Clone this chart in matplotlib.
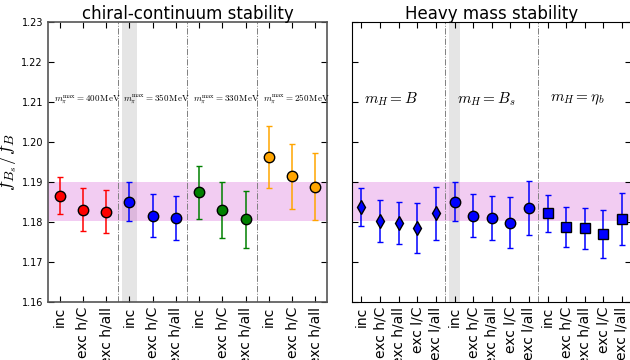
import numpy as np
import matplotlib
matplotlib.use("Agg")
import matplotlib.pyplot as plt

plt.rcParams['mathtext.fontset'] = 'cm'

# left panel: chiral-continuum stability
left_labels = ["inc", "exc h/C", "exc h/all"] * 4
left_vals = [1.1866, 1.1831, 1.1826,
             1.1851, 1.1816, 1.1810,
             1.1874, 1.1831, 1.1807,
             1.1962, 1.1914, 1.1888]
left_errs = [0.0047, 0.0053, 0.0054,
             0.0048, 0.0053, 0.0054,
             0.0066, 0.0070, 0.0071,
             0.0078, 0.0082, 0.0084]
left_colors = ["red", "blue", "green", "orange"]
left_texts = [r"$m_\pi^{\rm max}=400\,\mathrm{MeV}$", r"$m_\pi^{\rm max}=350\,\mathrm{MeV}$",
              r"$m_\pi^{\rm max}=330\,\mathrm{MeV}$", r"$m_\pi^{\rm max}=250\,\mathrm{MeV}$"]

# right panel: heavy mass stability
right_labels = ["inc", "exc h/C", "exc h/all", "exc l/C", "exc l/all"] * 3
right_vals = [1.1838, 1.1802, 1.1797, 1.1785, 1.1822,
              1.1851, 1.1816, 1.1810, 1.1798, 1.1835,
              1.1822, 1.1788, 1.1784, 1.1770, 1.1807]
right_errs = [0.0047, 0.0053, 0.0053, 0.0063, 0.0066,
              0.0048, 0.0053, 0.0054, 0.0064, 0.0068,
              0.0046, 0.0050, 0.0052, 0.0061, 0.0065]
right_markers = ["d", "o", "s"]
right_texts = [r"$m_H = B$", r"$m_H = B_s$", r"$m_H = \eta_b$"]

# final result band
band_lo, band_hi = 1.1803, 1.1899

fig = plt.figure(figsize=(6.3, 3.6), dpi=100)
ax1 = fig.add_axes([0.076, 0.161, 0.443, 0.778])
ax2 = fig.add_axes([0.559, 0.161, 0.443, 0.778])

yt = np.arange(1.16, 1.2301, 0.01)

# --- left
x = np.arange(len(left_vals))
for g in range(4):
    sl = slice(3 * g, 3 * g + 3)
    ax1.errorbar(x[sl], left_vals[sl], yerr=left_errs[sl], fmt="o", color=left_colors[g],
                 ecolor=left_colors[g], elinewidth=1.1, capsize=2.5, capthick=1.0,
                 markersize=7.5, markeredgecolor="black", markeredgewidth=1, zorder=5)
for xv in [2.5, 5.5, 8.5]:
    ax1.axvline(xv, color="gray", ls="-.", lw=0.7)
ax1.axvspan(2.68, 3.32, color="0.6", alpha=0.25, lw=0)
ax1.axhspan(band_lo, band_hi, color="m", alpha=0.2, lw=0)
for i, t in enumerate(left_texts):
    ax1.text(-0.25 + 3 * i, 1.2107, t, fontsize=6.5, ha="left", va="center")
ax1.set_xlim(-0.5, 11.5)
ax1.set_ylim(1.16, 1.23)
ax1.set_xticks(x)
ax1.set_xticklabels(left_labels, rotation=90, fontsize=10)
ax1.set_yticks(yt)
ax1.set_yticklabels(["%.2f" % v for v in yt], fontsize=7)
ax1.tick_params(direction="in", top=True, right=True, length=4)
ax1.set_ylabel(r"$f_{B_s}/f_B$", fontsize=14)
ax1.yaxis.set_label_coords(-0.105, 0.5)
ax1.set_title("chiral-continuum stability", fontsize=12, pad=2)
for sp in ax1.spines.values():
    sp.set_color("#555555")
    sp.set_linewidth(1.2)

# --- right
x2 = np.arange(len(right_vals))
for g in range(3):
    sl = slice(5 * g, 5 * g + 5)
    ax2.errorbar(x2[sl], right_vals[sl], yerr=right_errs[sl], fmt=right_markers[g], color="blue",
                 ecolor="blue", elinewidth=1.1, capsize=2.5, capthick=1.0,
                 markersize=7.5, markeredgecolor="black", markeredgewidth=1, zorder=5)
for xv in [4.5, 9.5]:
    ax2.axvline(xv, color="gray", ls="-.", lw=0.7)
ax2.axvspan(4.68, 5.32, color="0.6", alpha=0.25, lw=0)
ax2.axhspan(band_lo, band_hi, color="m", alpha=0.2, lw=0)
for i, t in enumerate(right_texts):
    ax2.text(0.15 + 5 * i, 1.2107, t, fontsize=11, ha="left", va="center")
ax2.set_xlim(-0.5, 14.5)
ax2.set_ylim(1.16, 1.23)
ax2.set_xticks(x2)
ax2.set_xticklabels(right_labels, rotation=90, fontsize=10)
ax2.set_yticks(yt)
ax2.set_yticklabels([])
ax2.tick_params(direction="in", top=True, right=True, length=4)
ax2.set_title("Heavy mass stability", fontsize=12, pad=2)

fig.savefig("out.png", dpi=100)
